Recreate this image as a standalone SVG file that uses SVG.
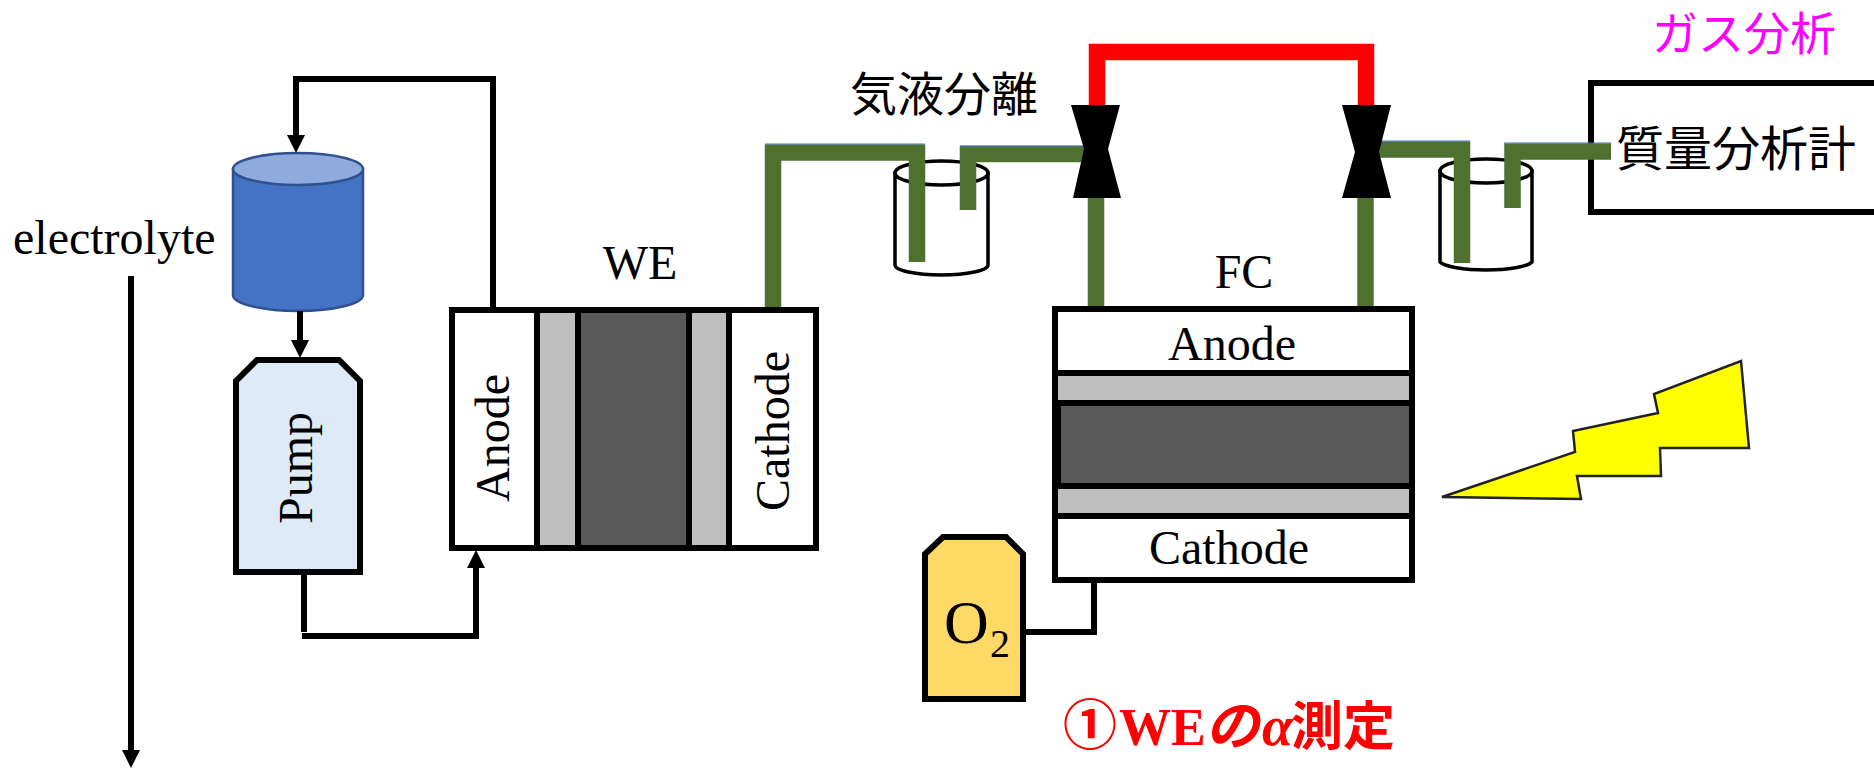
<svg xmlns="http://www.w3.org/2000/svg" width="1874" height="768" viewBox="0 0 1874 768">
<style>
text{fill:#000}
.t{font-family:"Liberation Serif","Times New Roman",serif;font-size:48px}
.m{text-anchor:middle}
.j{font-family:"Noto Sans CJK JP","Noto Sans",sans-serif;font-size:48px}
.b{fill:none;stroke:#000;stroke-width:6;stroke-linejoin:miter}
.bx{fill:#fff;stroke:#000;stroke-width:6}
.g{fill:#bfbfbf;stroke:#000;stroke-width:6}
.d{fill:#595959;stroke:#000;stroke-width:6}
.pipe{fill:none;stroke:#4e7130;stroke-width:16.5;stroke-linejoin:miter}
.red{fill:none;stroke:#f00;stroke-width:16.5;stroke-linejoin:miter}
.cup{fill:#fff;stroke:#000;stroke-width:3.5}
.hl{fill:none;stroke:#4472c4;stroke-width:1}
.r{fill:#f00;font-weight:700;font-size:52px}
</style>
<defs>
<marker id="a" markerUnits="userSpaceOnUse" markerWidth="18" markerHeight="18" refX="8" refY="9" orient="auto"><path d="M0 0L18 9L0 18Z" fill="#000"/></marker>
</defs>

<g id="electrolyte-label"><text class="t" x="13" y="254">electrolyte</text></g>

<g id="tank">
<path d="M233 169V295A65 16 0 0 0 363 295V169Z" fill="#4472c4" stroke="#2f528f" stroke-width="2.5"/>
<ellipse cx="298" cy="169" rx="65" ry="16" fill="#8faadc" stroke="#2f528f" stroke-width="2.5"/>
</g>

<g id="pump">
<path d="M257 360H339L360 381V572H236V381Z" fill="#deebf7" stroke="#000" stroke-width="6"/>
<text class="t m" transform="translate(312 468) rotate(-90)">Pump</text>
</g>

<g id="cup1">
<path class="cup" d="M895 173V265A46.500 10 0 0 0 988 265V173Z"/>
<ellipse class="cup" cx="941.500" cy="173" rx="46.500" ry="12"/>
</g>
<g id="cup2">
<path class="cup" d="M1440 171V262A47 10 0 0 0 1532 262V171Z"/>
<ellipse class="cup" cx="1486" cy="171" rx="46" ry="12"/>
</g>

<g id="mass-spec">
<rect class="bx" x="1591" y="83" width="300" height="129"/>
</g>

<g id="connectors">
<path class="b" d="M493 307V79H296V143" marker-end="url(#a)"/>
<path class="b" d="M300 311V348" marker-end="url(#a)"/>
<path class="b" d="M304 575V632"/>
<path class="b" d="M302 636H476V560" marker-end="url(#a)"/>
<path class="b" d="M131 276V758" marker-end="url(#a)"/>
<path class="b" d="M1094 583V632H1026" stroke-width="5"/>
<path class="pipe" d="M773 307V152.500H917V262"/>
<path class="pipe" d="M968 210V154H1090"/>
<path class="pipe" d="M1096 198V307"/>
<path class="pipe" d="M1365.500 198V307"/>
<path class="pipe" d="M1375 149.500H1462V263"/>
<path class="pipe" d="M1512.500 208V151.500H1611"/>
<path class="red" d="M1097 105V52H1366V105"/>
<path class="hl" d="M765 144H925M960 146H1083M1380 141H1470M1504 143H1611"/>
</g>

<g id="valve1"><path d="M1071 105H1120L1108 149L1121 198H1073L1084 149Z" fill="#000"/></g>
<g id="valve2"><path d="M1342 105H1391L1379 152L1391 198H1342L1355 152Z" fill="#000"/></g>

<g id="we-cell">
<rect class="bx" x="452" y="310" width="364" height="238"/>
<rect class="g" x="537" y="310" width="41" height="238"/>
<rect class="d" x="578" y="310" width="111" height="238"/>
<rect class="g" x="689" y="310" width="40" height="238"/>
<text class="t m" transform="translate(509 438) rotate(-90)">Anode</text>
<text class="t m" transform="translate(789 431) rotate(-90)">Cathode</text>
<text class="t m" x="640" y="279">WE</text>
</g>

<g id="fc-cell">
<rect class="bx" x="1055" y="309" width="357" height="271"/>
<rect class="g" x="1055" y="373" width="357" height="30"/>
<rect class="g" x="1055" y="486" width="357" height="30"/>
<rect class="d" x="1058" y="403" width="354" height="83"/>
<text class="t m" x="1232" y="360">Anode</text>
<text class="t m" x="1229" y="564">Cathode</text>
<text class="t m" x="1244" y="288">FC</text>
</g>

<g id="o2">
<path d="M943 537H1006L1023 554V699H925V554Z" fill="#ffd966" stroke="#000" stroke-width="6"/>
<text class="t" x="944" y="643" style="font-size:62px">O</text>
<text class="t" x="990" y="657" style="font-size:40px">2</text>
</g>

<g id="bolt"><path d="M1442 497L1575 452L1573 431L1658 413L1654 394L1741 361L1749 448H1660L1661 476H1577L1581 499Z" fill="#ff0" stroke="#222" stroke-width="2.500"/></g>

<g id="labels">
<text class="j" x="850" y="111" style="font-size:47px">気液分離</text>
<text class="j" x="1616" y="166">質量分析計</text>
<text class="j" x="1652" y="50" style="fill:#f0f;font-size:46px">ガス分析</text>
<text class="j r" x="1063" y="745" style="font-size:54px">①</text>
<text class="t r" x="1119" y="745" style="fill:#f00">WE</text>
<text class="j r" x="1205" y="745" style="font-size:54px;font-style:italic">の</text>
<text class="t r" x="1262" y="745" style="fill:#f00;font-size:56px;font-style:italic">α</text>
<text class="j r" x="1291" y="745">測定</text>
</g>
</svg>
